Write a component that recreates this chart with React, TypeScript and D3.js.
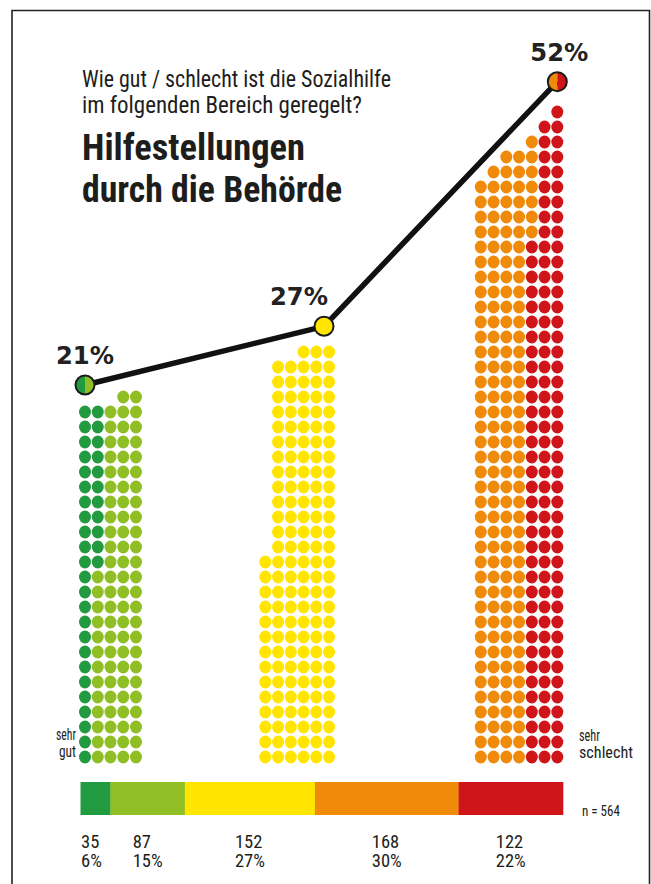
import React from "react";
import * as d3 from "d3";

// ---------- data ----------
const categories = ["sehr gut", "eher gut", "teils-teils", "eher schlecht", "sehr schlecht"];
const counts = [35, 87, 152, 168, 122];
const shareLabels = ["6%", "15%", "27%", "30%", "22%"];
const groupMembers = [[0, 1], [2], [3, 4]];
const groupShares = [21, 27, 52];
const groupShareLabels = ["21%", "27%", "52%"];
const groupColumnHeights = [
  [24, 24, 24, 25, 25],
  [14, 27, 27, 28, 28, 28],
  [39, 40, 41, 41, 42, 43, 44],
];
const totalN = 564;
const titleLines = ["Wie gut / schlecht ist die Sozialhilfe", "im folgenden Bereich geregelt?"];
const headlineLines = ["Hilfestellungen", "durch die Behörde"];

// ---------- styles / layout ----------
const COLORS = ["#229a3f", "#8fbf24", "#ffe500", "#f08a0a", "#cf151a"];
const W = 651;
const H = 884;
const GROUP_X0 = [85, 265.3, 480.8];
const COL_STEP = 12.75;
const MARKER_X = [85, 324, 557.3];
const LABEL_DX = [0, -25, 2];
const COND = "'Roboto Condensed', 'DejaVu Sans Condensed', 'Liberation Sans Narrow', Roboto, sans-serif";
const TEXT = "#1d1d1b";

export default function App() {
  const rowY = d3.scaleLinear().domain([0, 43]).range([757, 112]);
  const shareY = d3.scaleLinear().domain([21, 52]).range([385, 81.7]);
  const barX = d3.scaleLinear().domain([0, totalN]).range([80.5, 563]);

  type Dot = { x: number; y: number; cat: number };
  const dots: Dot[] = [];
  groupColumnHeights.forEach((heights, g) => {
    const members = groupMembers[g];
    const bounds = Array.from(d3.cumsum(members.map((m) => counts[m])));
    const xs = d3
      .scaleLinear()
      .domain([0, heights.length - 1])
      .range([GROUP_X0[g], GROUP_X0[g] + (heights.length - 1) * COL_STEP]);
    let idx = 0;
    heights.forEach((h, c) => {
      for (let k = 0; k < h; k++) {
        const row = h - 1 - k;
        let mi = bounds.findIndex((b) => idx < b);
        if (mi < 0) mi = members.length - 1;
        dots.push({ x: xs(c), y: rowY(row), cat: members[mi] });
        idx++;
      }
    });
  });

  const markers = groupShares.map((p, g) => ({ x: MARKER_X[g], y: shareY(p), g }));
  const line = d3.line<{ x: number; y: number }>().x((d) => d.x).y((d) => d.y);
  const arc = d3.arc<any>();
  const R = 9.5;

  const starts = [0, ...Array.from(d3.cumsum(counts))];
  const segs = counts.map((c, i) => ({ x0: barX(starts[i]), x1: barX(starts[i] + c), i }));

  return (
    <svg
      width={W}
      height={H}
      viewBox={`0 0 ${W} ${H}`}
      style={{ position: "absolute", left: 0, top: 0, background: "#fff" }}
    >
      <rect x={0} y={0} width={W} height={H} fill="#fff" />
      {/* frame */}
      <path d={`M12,${H} V10.5 H649.5 V${H}`} fill="none" stroke="#222" strokeWidth={1.6} />

      {/* title */}
      <g fontFamily={COND} fill={TEXT}>
        <text x={82} y={87} fontSize={23.5} textLength={309} lengthAdjust="spacingAndGlyphs">
          {titleLines[0]}
        </text>
        <text x={82} y={113} fontSize={23.5} textLength={280} lengthAdjust="spacingAndGlyphs">
          {titleLines[1]}
        </text>
        <text x={82} y={160} fontSize={37} fontWeight={700} textLength={223} lengthAdjust="spacingAndGlyphs">
          {headlineLines[0]}
        </text>
        <text x={82} y={201.5} fontSize={37} fontWeight={700} textLength={260} lengthAdjust="spacingAndGlyphs">
          {headlineLines[1]}
        </text>
      </g>

      {/* dots */}
      <g>
        {dots.map((d, i) => (
          <ellipse key={i} cx={d.x} cy={d.y} rx={6} ry={6.5} fill={COLORS[d.cat]} />
        ))}
      </g>

      {/* connecting line */}
      <path d={line(markers) || ""} fill="none" stroke="#111" strokeWidth={5.5} strokeLinejoin="round" />

      {/* markers */}
      {markers.map((m) => {
        const mem = groupMembers[m.g];
        return (
          <g key={m.g} transform={`translate(${m.x},${m.y})`}>
            {mem.length === 1 ? (
              <circle r={R} fill={COLORS[mem[0]]} />
            ) : (
              <>
                <path d={arc({ innerRadius: 0, outerRadius: R, startAngle: Math.PI, endAngle: 2 * Math.PI }) || ""} fill={COLORS[mem[0]]} />
                <path d={arc({ innerRadius: 0, outerRadius: R, startAngle: 0, endAngle: Math.PI }) || ""} fill={COLORS[mem[1]]} />
              </>
            )}
            <circle r={R} fill="none" stroke="#1a1a1a" strokeWidth={2} />
          </g>
        );
      })}

      {/* group share labels */}
      {markers.map((m) => (
        <text
          key={m.g}
          x={m.x + LABEL_DX[m.g]}
          y={m.y - 21}
          textAnchor="middle"
          fontFamily="'DejaVu Sans', sans-serif"
          fontWeight={700}
          fontSize={25}
          fill="#222"
          textLength={58}
          lengthAdjust="spacingAndGlyphs"
        >
          {groupShareLabels[m.g]}
        </text>
      ))}

      {/* end labels */}
      <g fontFamily={COND} fontSize={17} fill={TEXT}>
        <text x={76} y={740} textAnchor="end">
          <tspan x={76} y={740} textLength={20} lengthAdjust="spacingAndGlyphs">sehr</tspan>
          <tspan x={76} y={757} textLength={17} lengthAdjust="spacingAndGlyphs">gut</tspan>
        </text>
        <text x={579} y={740.5}>
          <tspan x={579} y={740.5} textLength={21} lengthAdjust="spacingAndGlyphs">sehr</tspan>
          <tspan x={579} y={758} textLength={54} lengthAdjust="spacingAndGlyphs">schlecht</tspan>
        </text>
      </g>

      {/* bottom bar */}
      {segs.map((s) => (
        <rect key={s.i} x={s.x0} y={782} width={s.x1 - s.x0 + 0.3} height={33} fill={COLORS[s.i]} />
      ))}
      <text x={582} y={815.5} fontFamily={COND} fontSize={15.5} fill={TEXT} textLength={38} lengthAdjust="spacingAndGlyphs">
        n = 564
      </text>

      {/* bottom labels */}
      <g fontFamily={COND} fontSize={18.5} fill={TEXT}>
        {segs.map((s) => {
          const x = s.i === 0 ? s.x0 + 0.5 : (s.x0 + s.x1) / 2 - 15;
          return (
            <text key={s.i} x={x} y={848}>
              <tspan x={x} y={848}>{counts[s.i]}</tspan>
              <tspan x={x} y={867}>{shareLabels[s.i]}</tspan>
            </text>
          );
        })}
      </g>
      <desc>{categories.join(", ")}</desc>
    </svg>
  );
}
